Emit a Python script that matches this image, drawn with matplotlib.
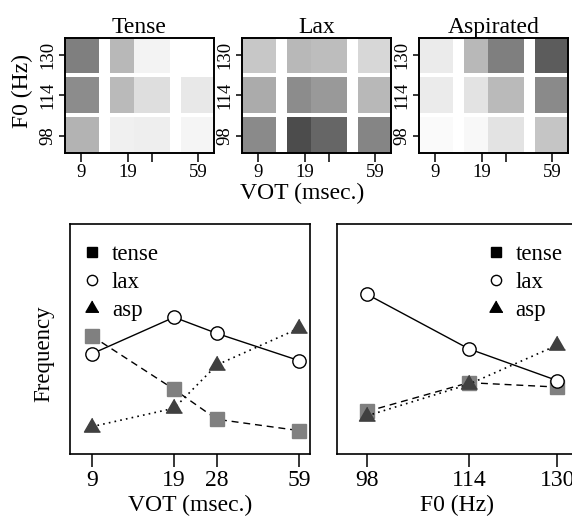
import numpy as np
import matplotlib
matplotlib.use("Agg")
import matplotlib.pyplot as plt
from matplotlib.colors import LinearSegmentedColormap
from matplotlib.lines import Line2D
from matplotlib.ticker import NullLocator

plt.rcParams['font.family'] = ['Liberation Serif', 'DejaVu Serif']

# ---------------- data ----------------
vot_ms = [9, 19, 28, 59]
f0_hz = [98, 114, 130]
vot_top_labels = ['9', '19', '', '59']
f0_labels = ['98', '114', '130']
panel_titles = ['Tense', 'Lax', 'Aspirated']
categories = ['tense', 'lax', 'asp']

# heatmap cell darkness (0 = white, 1 = black); rows F0 = 98, 114, 130; cols VOT = 9, 19, 28, 59
tense_grid = [[0.30, 0.06, 0.07, 0.04],
              [0.45, 0.27, 0.13, 0.09],
              [0.50, 0.28, 0.05, 0.00]]
lax_grid = [[0.46, 0.70, 0.60, 0.48],
            [0.33, 0.45, 0.40, 0.28],
            [0.22, 0.28, 0.26, 0.16]]
asp_grid = [[0.02, 0.03, 0.11, 0.23],
            [0.08, 0.11, 0.27, 0.46],
            [0.08, 0.28, 0.50, 0.64]]

# relative frequency by VOT
tense_by_vot = [0.514, 0.282, 0.152, 0.103]
lax_by_vot = [0.436, 0.595, 0.525, 0.407]
asp_by_vot = [0.120, 0.200, 0.388, 0.547]

# relative frequency by F0
tense_by_f0 = [0.186, 0.311, 0.292]
lax_by_f0 = [0.695, 0.458, 0.320]
asp_by_f0 = [0.167, 0.304, 0.474]

# ---------------- layout ----------------
W, H = 572, 520
fig = plt.figure(figsize=(W / 100, H / 100), dpi=100)

def fbox(x0, y0, x1, y1):
    return [x0 / W, 1 - y1 / H, (x1 - x0) / W, (y1 - y0) / H]

cmap = LinearSegmentedColormap.from_list('wb', ['white', 'black'])
vot_edges = [6.95, 12.0, 14.4, 21.1, 37.4, 44.4, 75.9]
f0_edges = [91.2, 105.2, 106.8, 121.2, 122.8, 136.8]
col_slots = [0, 2, 3, 5]
row_slots = [0, 2, 4]

heat_left = [65, 242, 419]
heat_w = 149
grids = [tense_grid, lax_grid, asp_grid]
for k in range(3):
    ax = fig.add_axes(fbox(heat_left[k], 38, heat_left[k] + heat_w, 152.7))
    Z = np.ma.masked_all((5, 6))
    for i, r in enumerate(row_slots):
        for j, c in enumerate(col_slots):
            Z[r, c] = grids[k][i][j]
    ax.pcolormesh(vot_edges, f0_edges, Z, cmap=cmap, vmin=0, vmax=1)
    ax.set_xscale('log')
    ax.set_xlim(vot_edges[0], vot_edges[-1])
    ax.set_ylim(f0_edges[0], f0_edges[-1])
    ax.set_xticks(vot_ms, vot_top_labels)
    ax.xaxis.set_minor_locator(NullLocator())
    ax.set_yticks(f0_hz, f0_labels)
    for lab in ax.get_yticklabels():
        lab.set_rotation(90)
        lab.set_va('center')
    ax.tick_params(axis='x', direction='out', length=6.5, width=1.1, labelsize=13.5, pad=1.5)
    ax.tick_params(axis='y', direction='out', length=4.5, width=1.1, labelsize=13.5, pad=1.5)
    for s in ax.spines.values():
        s.set_linewidth(1.4)
    ax.set_title(panel_titles[k], fontsize=17, pad=2)

fig.text(302 / W, 1 - 193 / H, 'VOT (msec.)', fontsize=17, ha='center', va='center')
fig.text(22.7 / W, 1 - 91 / H, 'F0 (Hz)', fontsize=17, ha='center', va='center', rotation=90)

tri = [(0, 1), (-0.866, -0.5), (0.866, -0.5)]

def draw_lines(ax, x, t, l, a):
    ax.plot(x, t, color='black', lw=1.0, dashes=(5, 3.5), marker='s', ms=9.6,
            mfc='#808080', mec='#808080', zorder=2)
    ax.plot(x, l, color='black', lw=1.0, ls='-', marker='o', ms=9.6,
            mfc='white', mec='black', mew=1.0, zorder=3)
    ax.plot(x, a, color='black', lw=1.2, dashes=(1, 2.5), marker=tri, ms=13.3,
            mfc='#404040', mec='#404040', zorder=4)

def legend(ax, x_anchor):
    handles = [
        Line2D([], [], ls='none', marker='s', ms=6.7, mfc='black', mec='black'),
        Line2D([], [], ls='none', marker='o', ms=7.4, mfc='white', mec='black', mew=1.0),
        Line2D([], [], ls='none', marker=tri, ms=10.8, mfc='black', mec='black'),
    ]
    ax.legend(handles, categories, loc='upper left', bbox_to_anchor=(x_anchor, 0.914),
              frameon=False, borderpad=0, borderaxespad=0, handlelength=0.8,
              handletextpad=0.47, labelspacing=0.31, fontsize=16.5, numpoints=1)

def style(ax):
    for s in ax.spines.values():
        s.set_linewidth(1.2)
    ax.tick_params(axis='x', direction='out', length=9, width=1.1, labelsize=17, pad=2)
    ax.yaxis.set_major_locator(NullLocator())
    ax.yaxis.set_minor_locator(NullLocator())
    ax.xaxis.set_minor_locator(NullLocator())

# bottom-left: by VOT
axL = fig.add_axes(fbox(70, 224, 310, 454.3))
draw_lines(axL, vot_ms, tense_by_vot, lax_by_vot, asp_by_vot)
axL.set_xscale('log')
axL.set_xlim(7.39, 65.2)
axL.set_ylim(0, 1)
axL.set_xticks(vot_ms, [str(v) for v in vot_ms])
style(axL)
axL.set_xlabel('VOT (msec.)', fontsize=17)
axL.xaxis.set_label_coords(0.5, -0.175)
legend(axL, 0.053)
fig.text(43.3 / W, 1 - 354 / H, 'Frequency', fontsize=16.5, ha='center', va='center', rotation=90)

# bottom-right: by F0
axR = fig.add_axes(fbox(336.7, 224, 576.7, 454.3))
draw_lines(axR, f0_hz, tense_by_f0, lax_by_f0, asp_by_f0)
axR.set_xscale('log')
axR.set_xlim(93.7, 133.8)
axR.set_ylim(0, 1)
axR.set_xticks(f0_hz, [str(v) for v in f0_hz])
style(axR)
axR.set_xlabel('F0 (Hz)', fontsize=17)
axR.xaxis.set_label_coords(0.5, -0.175)
legend(axR, 0.624)

fig.savefig('out.png', dpi=100)
